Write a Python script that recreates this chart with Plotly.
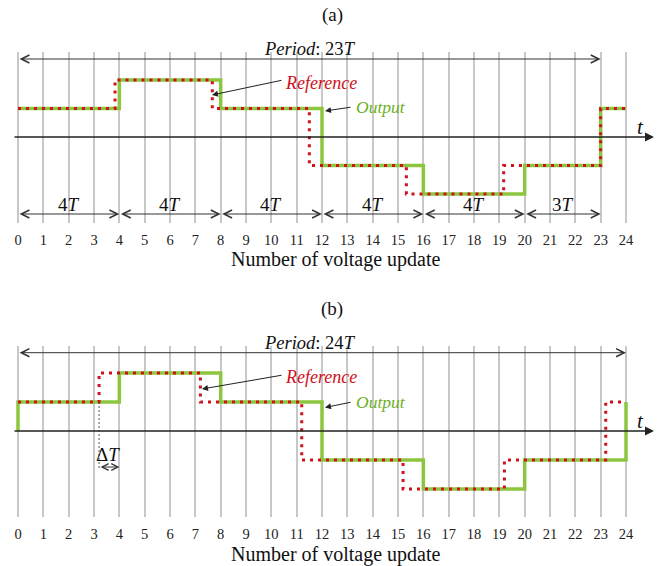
import plotly.graph_objects as go

# ---------------- data ----------------
ticks = list(range(25))

out_a_x = [0, 4, 8, 12, 16, 20, 23, 24]
out_a_y = [1, 2, 1, -1, -2, -1, 1, 1]
ref_a_x = [0, 3.83, 7.67, 11.5, 15.33, 19.17, 23, 24]
ref_a_y = [1, 2, 1, -1, -2, -1, 1, 1]

out_b_x = [0, 0, 4, 8, 12, 16, 20, 24]
out_b_y = [0, 1, 2, 1, -1, -2, -1, 1]
ref_b_x = [0, 3.2, 7.2, 11.2, 15.2, 19.2, 23.2, 23.9]
ref_b_y = [1, 2, 1, -1, -2, -1, 1, 1]

seg_bounds_a = [0, 4, 8, 12, 16, 20, 23]
seg_labels_a = ["4", "4", "4", "4", "4", "3"]
period_a = 23
period_b = 24
delta_t = (3.2, 4)

# ---------------- style ----------------
W, H = 670, 566
FONT = "Liberation Serif, Times New Roman, DejaVu Serif, serif"
GREEN = "#8cc63f"
RED = "#d0101a"
GRID = "#c8c8c8"
X0PX, X24PX = 18, 626
ppx = (X24PX - X0PX) / 24.0
xr = [-X0PX / ppx, (W - X0PX) / ppx]


def py(px):
    return 1 - px / H


A0, AU = 137, 28.5
B0, BU = 431, 29.0
ya_rng = [(A0 - 223) / AU, (A0 - 52) / AU]
yb_rng = [(B0 - 517) / BU, (B0 - 346) / BU]


def va(px):
    return (A0 - px) / AU


def vb(px):
    return (B0 - px) / BU


def vx(px):
    return (px - X0PX) / ppx


fig = go.Figure()

green_line = dict(color=GREEN, width=3.5, shape="hv")
red_line = dict(color=RED, width=3, shape="hv", dash="3px,5px")

fig.add_trace(go.Scatter(x=out_a_x, y=out_a_y, mode="lines", line=green_line,
                         xaxis="x", yaxis="y", showlegend=False, hoverinfo="skip"))
fig.add_trace(go.Scatter(x=ref_a_x, y=ref_a_y, mode="lines", line=red_line,
                         xaxis="x", yaxis="y", showlegend=False, hoverinfo="skip"))
fig.add_trace(go.Scatter(x=out_b_x, y=out_b_y, mode="lines", line=green_line,
                         xaxis="x2", yaxis="y2", showlegend=False, hoverinfo="skip"))
fig.add_trace(go.Scatter(x=ref_b_x, y=ref_b_y, mode="lines", line=red_line,
                         xaxis="x2", yaxis="y2", showlegend=False, hoverinfo="skip"))

xcommon = dict(range=xr, domain=[0, 1], tickmode="array", tickvals=ticks,
               ticktext=[str(t) for t in ticks], showgrid=True, gridcolor=GRID,
               gridwidth=1.5, zeroline=False, showline=False, ticks="",
               tickfont=dict(family=FONT, size=14.5, color="#222"),
               ticklabelstandoff=6, fixedrange=True)
ycommon = dict(showgrid=False, zeroline=False, showline=False,
               showticklabels=False, ticks="", fixedrange=True)

fig.update_layout(
    width=W, height=H, margin=dict(l=0, r=0, t=0, b=0),
    paper_bgcolor="white", plot_bgcolor="rgba(0,0,0,0)",
    xaxis=dict(**xcommon, anchor="y"),
    xaxis2=dict(**xcommon, anchor="y2"),
    yaxis=dict(**ycommon, range=ya_rng, domain=[py(223), py(52)], anchor="x"),
    yaxis2=dict(**ycommon, range=yb_rng, domain=[py(517), py(346)], anchor="x2"),
    font=dict(family=FONT),
)

ann = []
shapes = []


def arrow(x0, y0, x1, y1, xr_, yr_, head=5, both=True, size=1.6, width=1, color="#333"):
    ann.append(dict(x=x1, y=y1, ax=x0, ay=y0, xref=xr_, yref=yr_, axref=xr_, ayref=yr_,
                    text="", showarrow=True, arrowhead=head, arrowsize=size,
                    arrowwidth=width, arrowcolor=color,
                    arrowside="end+start" if both else "end",
                    startarrowhead=head, startarrowsize=size,
                    standoff=0, startstandoff=0))


def text(x, y, s, xr_, yr_, size=16, color="#111"):
    ann.append(dict(x=x, y=y, xref=xr_, yref=yr_, text=s, showarrow=False,
                    font=dict(family=FONT, size=size, color=color),
                    xanchor="center", yanchor="middle"))


text(vx(332), py(15), "(a)", "x", "paper", size=19)
text(vx(332), py(309), "(b)", "x2", "paper", size=19)

text(vx(335), py(260), "Number of voltage update", "x", "paper", size=20)
text(vx(335), py(554), "Number of voltage update", "x2", "paper", size=20)

arrow(vx(13), 0, vx(654), 0, "x", "y", head=2, both=False, size=1.2, width=1.5, color="#222")
arrow(vx(13), 0, vx(654), 0, "x2", "y2", head=2, both=False, size=1.2, width=1.5, color="#222")
text(vx(640), va(127), "<i>t</i>", "x", "y", size=21)
text(vx(640), vb(421), "<i>t</i>", "x2", "y2", size=21)

arrow(0, va(59), period_a, va(59), "x", "y")
text(vx(310), py(49), "<i>Period</i>: %d<i>T</i>" % period_a, "x", "paper", size=18.5)
arrow(0, vb(352.7), period_b, vb(352.7), "x2", "y2")
text(vx(310), py(343), "<i>Period</i>: %d<i>T</i>" % period_b, "x2", "paper", size=18.5)

for i, lab in enumerate(seg_labels_a):
    a, b = seg_bounds_a[i], seg_bounds_a[i + 1]
    arrow(a, va(214), b, va(214), "x", "y")
    text((a + b) / 2, va(204), lab + "<i>T</i>", "x", "y", size=19)

text(vx(321), va(83), "<i>Reference</i>", "x", "y", size=18, color=RED)
arrow(vx(283), va(80), vx(212), va(95), "x", "y", head=2, both=False, size=1.2, width=1, color="#222")
text(vx(381), va(107), "<i>Output</i>", "x", "y", size=17.5, color="#6ab023")
arrow(vx(352), va(107), vx(325), va(111), "x", "y", head=2, both=False, size=1.2, width=1, color="#222")

text(vx(321), vb(377), "<i>Reference</i>", "x2", "y2", size=18, color=RED)
arrow(vx(283), vb(375), vx(202), vb(389), "x2", "y2", head=2, both=False, size=1.2, width=1, color="#222")
text(vx(381), vb(402), "<i>Output</i>", "x2", "y2", size=17.5, color="#6ab023")
arrow(vx(352), vb(402), vx(325), vb(407.5), "x2", "y2", head=2, both=False, size=1.2, width=1, color="#222")

shapes.append(dict(type="line", xref="x2", yref="y2", x0=delta_t[0], x1=delta_t[0],
                   y0=1, y1=vb(470), line=dict(color="#555", width=1, dash="2px,2px")))
arrow(delta_t[0], vb(467), delta_t[1], vb(467), "x2", "y2", size=1.3)
text((delta_t[0] + delta_t[1]) / 2 - 0.05, vb(454), "Δ<i>T</i>", "x2", "y2", size=19)

fig.update_layout(annotations=ann, shapes=shapes)
fig.write_html("out.html", config={"displayModeBar": False},
               post_script="document.body.style.margin='0';document.body.style.overflow='hidden';")
